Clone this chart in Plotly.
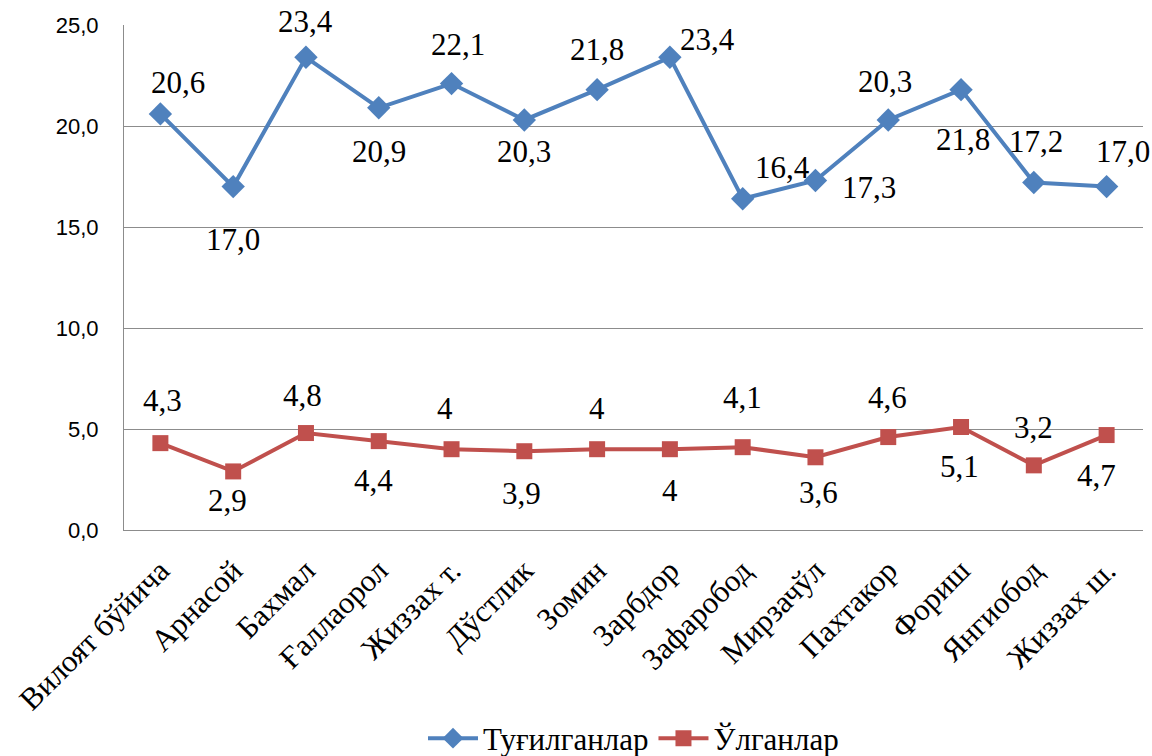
import plotly.graph_objects as go

categories = ["Вилоят бўйича", "Арнасой", "Бахмал", "Ғаллаорол", "Жиззах т.", "Дўстлик",
              "Зомин", "Зарбдор", "Зафаробод", "Мирзачўл", "Пахтакор", "Фориш",
              "Янгиобод", "Жиззах ш."]
births = [20.6, 17.0, 23.4, 20.9, 22.1, 20.3, 21.8, 23.4, 16.4, 17.3, 20.3, 21.8, 17.2, 17.0]
deaths = [4.3, 2.9, 4.8, 4.4, 4.0, 3.9, 4.0, 4.0, 4.1, 3.6, 4.6, 5.1, 3.2, 4.7]
series_names = ["Туғилганлар", "Ўлганлар"]
y_ticks = [0, 5, 10, 15, 20, 25]

# label pixel offsets (style only)
birth_offsets = [(18, 31), (0, -53), (0, 36), (0, -44), (6, 39), (0, -32), (0, 40),
                 (38, 18), (40, 31), (54, -7), (-3, 38), (2, -50), (2, 41), (16, 35)]
death_offsets = [(2, 43), (-6, -29), (-3, 38), (-5, -39), (-7, 41), (-3, -42), (0, 41),
                 (0, -41), (0, 50), (3, -35), (-1, 40), (-2, -40), (0, 38), (-10, -40)]

BLUE = "#4F81BD"
RED = "#C0504D"
SERIF = "Liberation Serif"
SANS = "Liberation Sans"

fig = go.Figure()
fig.add_trace(go.Scatter(x=categories, y=births, name=series_names[0], mode="lines+markers",
                         line=dict(color=BLUE, width=4),
                         marker=dict(symbol="diamond", size=18, color=BLUE)))
fig.add_trace(go.Scatter(x=categories, y=deaths, name=series_names[1], mode="lines+markers",
                         line=dict(color=RED, width=4),
                         marker=dict(symbol="square", size=16, color=RED)))

annotations = []
for c, v, (dx, dy) in zip(categories, births, birth_offsets):
    annotations.append(dict(x=c, y=v, xref="x", yref="y", text=f"{v:.1f}".replace(".", ","),
                            showarrow=False, xshift=dx, yshift=dy,
                            font=dict(family=SERIF, size=31, color="black")))
for c, v, (dx, dy) in zip(categories, deaths, death_offsets):
    annotations.append(dict(x=c, y=v, xref="x", yref="y", text=("%g" % v).replace(".", ","),
                            showarrow=False, xshift=dx, yshift=dy,
                            font=dict(family=SERIF, size=31, color="black")))

fig.update_layout(
    width=1152, height=756,
    margin=dict(l=124, r=9, t=25, b=226, autoexpand=False),
    paper_bgcolor="white", plot_bgcolor="white",
    showlegend=True,
    legend=dict(orientation="h", x=0.5, xanchor="center", y=-0.413, yanchor="middle",
                font=dict(family=SERIF, size=31, color="black"), itemwidth=50,
                traceorder="normal"),
    annotations=annotations,
)
fig.update_xaxes(type="category", range=[-0.5, 13.5], tickangle=-45, showgrid=False, showline=True,
                 linecolor="#8c8c8c", linewidth=1, ticks="", ticklabelstandoff=9,
                 automargin=False,
                 tickfont=dict(family=SERIF, size=31, color="black"))
fig.update_yaxes(range=[0, 25], tickvals=y_ticks,
                 ticktext=[f"{t:.1f}".replace(".", ",") for t in y_ticks],
                 showgrid=True, gridcolor="#8c8c8c", gridwidth=1, showline=True,
                 linecolor="#8c8c8c", linewidth=1, ticks="", ticklabelstandoff=20,
                 zeroline=False, automargin=False,
                 tickfont=dict(family=SANS, size=22, color="black"))

fig.write_html("out.html", config={"displayModeBar": False},
               post_script="document.body.style.margin='0';")
